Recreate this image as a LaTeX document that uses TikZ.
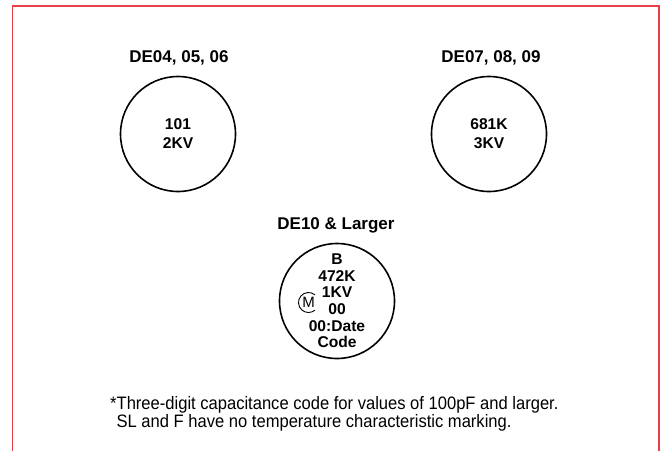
\documentclass[tikz,border=0pt]{standalone}
\usepackage{fontspec}
\setmainfont{Liberation Sans}
\newfontfamily\notefont[FakeStretch=0.92]{Liberation Sans}
\definecolor{framered}{HTML}{E8404A}
\begin{document}
\begin{tikzpicture}[x=1pt,y=-1pt,
  title/.style={font=\fontsize{17}{20}\selectfont\bfseries, inner sep=0pt},
  disc/.style={circle, draw=black, line width=1.6pt, minimum size=115pt, inner sep=0pt, align=center},
  val/.style={font=\fontsize{15.6}{19}\selectfont\bfseries},
  valtight/.style={font=\fontsize{15.6}{16.6}\selectfont\bfseries},
  note/.style={font=\notefont\fontsize{18}{16.5}\selectfont, align=left, inner sep=0pt}]
\useasboundingbox (0,0) rectangle (661,451);
% frame, open at the bottom
\draw[framered, line width=1.6pt] (12.5,451) -- (12.5,6) -- (659,6) -- (659,451);

\node[title] (t1) at (179,58) {DE04, 05, 06};
\node[disc, val] (c1) at (178,134) {101\\2KV};

\node[title] (t2) at (491,58) {DE07, 08, 09};
\node[disc, val] (c2) at (489,134) {681K\\3KV};

\node[title] (t3) at (336,225) {DE10 \& Larger};
\node[disc, valtight] (c3) at (337,301) {B\\472K\\1KV\\00\\00:Date\\Code};

\node[font=\fontsize{15}{16}\selectfont, inner sep=0pt] (m) at (308.5,302.5) {M};
\draw[line width=0.9pt] ([shift={(50:10pt)}]m.center) arc[start angle=50, end angle=310, radius=10pt];

\node[note, anchor=west] (n) at (110,413.5) {*Three-digit capacitance code for values of 100pF and larger.\\\phantom{*}SL and F have no temperature characteristic marking.};
\end{tikzpicture}
\end{document}
